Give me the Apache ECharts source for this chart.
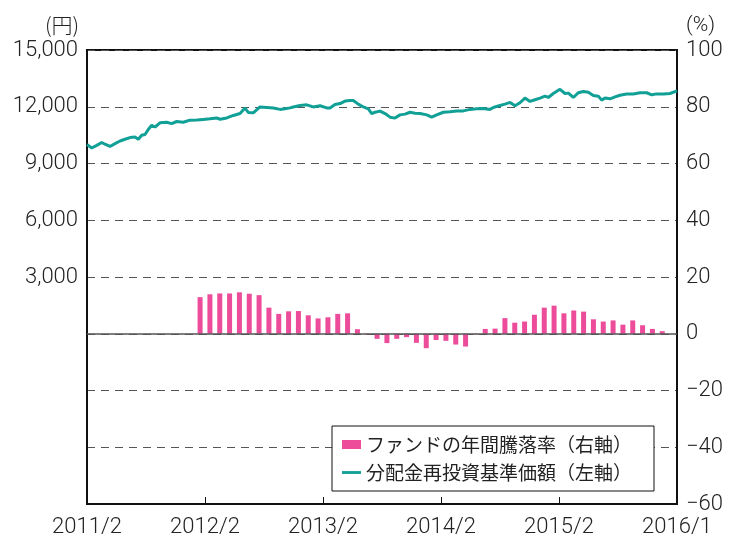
<!DOCTYPE html>
<html>
<head>
<meta charset="utf-8">
<script src="https://cdn.jsdelivr.net/npm/echarts@6.0.0/dist/echarts.min.js"></script>
<style>
  html, body { margin: 0; padding: 0; background: #fff; }
  #chart { width: 729px; height: 539px; }
</style>
</head>
<body>
<div id="chart"></div>
<script>
// x は 2011/2 からの月数
const xTickLabels = { 0: '2011/2', 12: '2012/2', 24: '2013/2', 36: '2014/2', 48: '2015/2', 60: '2016/1' };

// ファンドの年間騰落率（%）: 2012/1 〜 2015/12
const barMonths = [];
for (let i = 0; i < 48; i++) barMonths.push(11.5 + i);
const barValues = [
  12.9, 13.9, 14.2, 14.2, 14.6, 14.1, 13.6, 9.2, 7.0, 7.9, 8.0, 6.5,
  5.4, 5.8, 7.0, 7.2, 1.6, -0.3, -1.8, -3.3, -1.8, -1.2, -3.2, -5.1,
  -2.2, -2.5, -3.8, -4.5, -0.2, 1.7, 1.8, 5.5, 3.9, 4.3, 6.7, 9.2,
  9.9, 7.2, 8.2, 7.8, 5.1, 4.3, 4.7, 3.2, 4.7, 3.0, 1.7, 0.9
];

// 分配金再投資基準価額（円）
const navMonths = [
  0, 0.48, 0.99, 1.5, 1.83, 2.34, 2.85, 3.36, 3.86, 4.37, 4.88, 5.22, 5.56, 5.9,
  6.23, 6.58, 6.92, 7.42, 8.1, 8.61, 9.12, 9.79, 10.47, 11.16, 11.83, 12.51,
  13.19, 13.53, 14.21, 14.88, 15.56, 16.07, 16.4, 16.91, 17.59, 18.28, 18.95,
  19.63, 20.14, 20.64, 20.98, 21.66, 22.34, 23.01, 23.7, 24.38, 24.71, 25.22,
  25.73, 26.24, 26.75, 27.08, 27.59, 28.1, 28.61, 28.95, 29.29, 29.8, 30.31,
  30.82, 31.32, 31.83, 32.34, 32.85, 33.36, 33.87, 34.55, 35.05, 35.56, 36.24,
  36.92, 37.6, 38.27, 38.95, 39.63, 40.3, 40.98, 41.32, 42.0, 42.51, 43.02,
  43.53, 44.03, 44.54, 45.05, 45.56, 46.07, 46.58, 46.91, 47.42, 48.1, 48.61,
  48.95, 49.46, 49.96, 50.47, 50.98, 51.49, 52.0, 52.34, 52.68, 53.19, 53.7,
  54.2, 54.89, 55.56, 56.24, 56.92, 57.43, 57.94, 58.61, 59.29, 60
];
const navValues = [
  10000, 9820, 9960, 10110, 10020, 9900, 10050, 10190, 10280, 10370, 10400, 10280, 10490, 10530,
  10800, 11020, 10930, 11150, 11180, 11110, 11220, 11180, 11290, 11300, 11330, 11360,
  11410, 11340, 11410, 11540, 11640, 11930, 11700, 11680, 11990, 11960, 11930,
  11860, 11890, 11940, 11990, 12070, 12100, 11990, 12050, 11940, 11940, 12120,
  12170, 12300, 12330, 12330, 12140, 11990, 11890, 11640, 11710, 11770, 11640,
  11450, 11400, 11570, 11610, 11710, 11660, 11640, 11570, 11450, 11570, 11710,
  11730, 11770, 11780, 11860, 11890, 11910, 11860, 11960, 12070, 12140, 12230,
  12050, 12210, 12460, 12280, 12370, 12460, 12560, 12490, 12700, 12920, 12700,
  12720, 12490, 12740, 12810, 12770, 12600, 12560, 12350, 12460, 12420, 12520,
  12610, 12670, 12670, 12740, 12740, 12630, 12680, 12670, 12700, 12840
];

const FONT = '"Noto Sans CJK JP", "Noto Sans", sans-serif';
const NUM_FONT = 'Roboto, "Noto Sans", sans-serif';
const PINK = '#EC4C9A';
const TEAL = '#10A096';

const chart = echarts.init(document.getElementById('chart'));

const numLabel = {
  fontSize: 22, fontWeight: 300, color: '#222', fontFamily: NUM_FONT
};

chart.setOption({
  animation: false,
  textStyle: { fontFamily: FONT },
  grid: {
    left: 87, right: 52, top: 50, bottom: 35,
    show: true, borderColor: '#111', borderWidth: 2, backgroundColor: 'transparent'
  },
  legend: {
    orient: 'vertical',
    left: 332, top: 426,
    width: 322,
    padding: [9, 22, 9, 10],
    itemGap: 9,
    itemWidth: 19,
    itemHeight: 9,
    backgroundColor: '#fff',
    borderColor: '#111',
    borderWidth: 1,
    textStyle: { fontSize: 19, color: '#222', fontFamily: FONT },
    data: [
      { name: 'ファンドの年間騰落率（右軸）', icon: 'rect' },
      { name: '分配金再投資基準価額（左軸）', icon: 'path://M0,0H20V3H0Z' }
    ]
  },
  graphic: [
    { type: 'text', left: 45, top: 15, style: { text: '(円)', font: '300 21px ' + FONT, fill: '#222' } },
    { type: 'text', left: 686, top: 15, style: { text: '(%)', font: '300 21px ' + NUM_FONT, fill: '#222' } }
  ],
  xAxis: {
    type: 'value',
    min: 0, max: 60, interval: 12,
    axisLine: { show: true, onZero: false, lineStyle: { color: '#111', width: 2 } },
    axisTick: { show: true, inside: true, length: 7, lineStyle: { color: '#111', width: 1 } },
    splitLine: { show: false },
    axisLabel: Object.assign({}, numLabel, {
      margin: 12,
      formatter: v => xTickLabels[v] || ''
    })
  },
  yAxis: [
    {
      type: 'value',
      min: -9000, max: 15000, interval: 3000,
      axisLine: { show: true, lineStyle: { color: '#111', width: 2 } },
      axisTick: { show: false },
      splitLine: { show: true, lineStyle: { color: '#555', type: [8, 6], width: 1 } },
      axisLabel: Object.assign({}, numLabel, {
        margin: 9,
        formatter: v => v > 0 ? v.toLocaleString('en-US') : ''
      })
    },
    {
      type: 'value',
      min: -60, max: 100, interval: 20,
      axisLine: { show: true, lineStyle: { color: '#111', width: 2 } },
      axisTick: { show: false },
      splitLine: { show: false },
      axisLabel: Object.assign({}, numLabel, {
        margin: 9,
        formatter: v => String(v).replace('-', '−')
      })
    }
  ],
  series: [
    {
      name: 'ファンドの年間騰落率（右軸）',
      type: 'bar',
      yAxisIndex: 1,
      barWidth: 5,
      itemStyle: { color: PINK },
      data: barMonths.map((m, i) => [m, barValues[i]]),
      markLine: {
        silent: true,
        symbol: 'none',
        label: { show: false },
        lineStyle: { color: '#555', type: 'solid', width: 1.5 },
        data: [{ yAxis: 0 }]
      }
    },
    {
      name: '分配金再投資基準価額（左軸）',
      type: 'line',
      yAxisIndex: 0,
      showSymbol: false,
      symbol: 'none',
      lineStyle: { color: TEAL, width: 3 },
      itemStyle: { color: TEAL },
      data: navMonths.map((m, i) => [m, navValues[i]])
    }
  ]
});
</script>
</body>
</html>
